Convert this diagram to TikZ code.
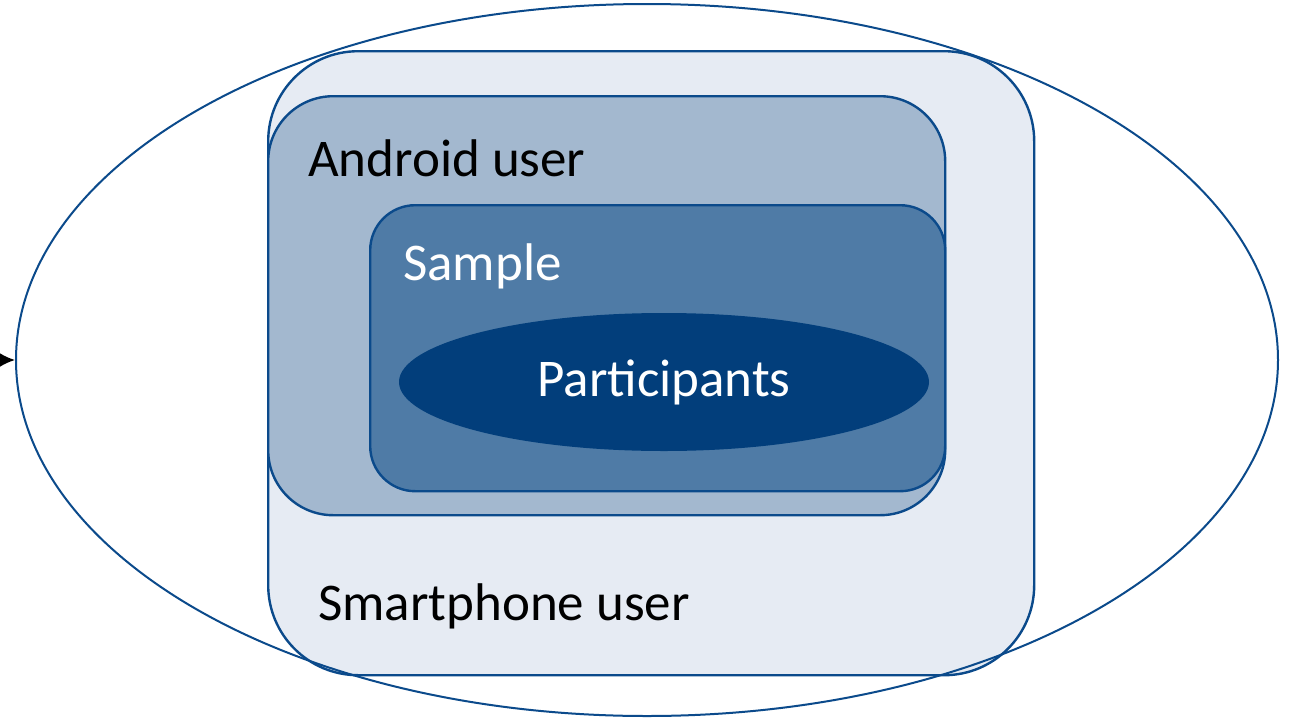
\documentclass[tikz,border=0pt]{standalone}
\usepackage{fontspec}
\setmainfont{Carlito}
\usetikzlibrary{shapes.geometric, arrows.meta, positioning}
\definecolor{spBorder}{HTML}{0B4A8B}
\definecolor{spPhone}{HTML}{E6EBF3}
\definecolor{spAndroid}{HTML}{A3B8CF}
\definecolor{spSample}{HTML}{4F7BA6}
\definecolor{spPart}{HTML}{023E7B}

\begin{document}
\begin{tikzpicture}[x=1pt, y=-1pt, font=\fontsize{53}{60}\selectfont,
  set/.style={rectangle, draw=spBorder, line width=2.4pt, inner sep=0pt, anchor=north west}]
  \useasboundingbox (0,0) rectangle (1294,718);
  % nested groups
  \node[set, fill=spPhone, rounded corners=90pt,
        minimum width=766pt, minimum height=624pt] (phone) at (267,50) {};
  \node[set, fill=spAndroid, rounded corners=65pt,
        minimum width=677pt, minimum height=419pt] (android) at (267,95) {};
  \node[set, fill=spSample, rounded corners=45pt,
        minimum width=575pt, minimum height=286pt] (sample) at (369,204) {};
  \node[ellipse, fill=spPart, inner sep=0pt, text=white,
        minimum width=530pt, minimum height=138pt] (part) at (664,382) {Participants};
  % labels
  \node[anchor=base west, inner sep=0pt] (androidlbl) at (308,176) {Android user};
  \node[anchor=base west, inner sep=0pt, text=white] (samplelbl) at (403,280) {Sample};
  \node[anchor=base west, inner sep=0pt] (phonelbl) at (318,620) {Smartphone user};
  % population
  \node[ellipse, draw=spBorder, line width=2pt, inner sep=0pt,
        minimum width=1262pt, minimum height=712pt] (world) at (647,360) {};
  \coordinate (src) at (0,360);
  \draw[-{Latex[length=16pt,width=15pt]}, line width=2pt] (src) -- (world.west);
\end{tikzpicture}
\end{document}
